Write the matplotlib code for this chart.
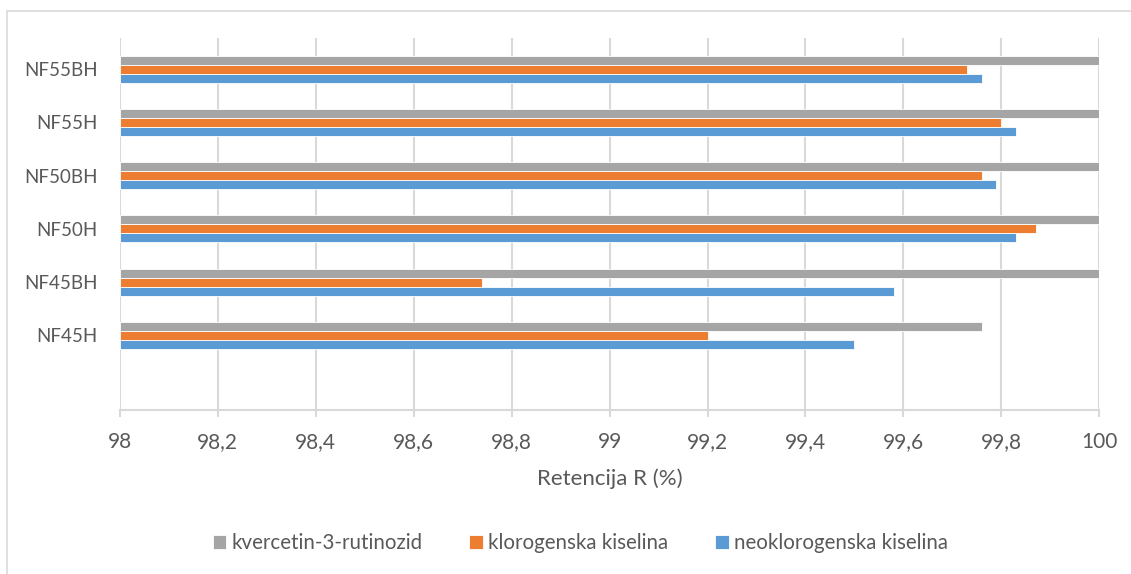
import matplotlib.pyplot as plt
import numpy as np
from matplotlib.patches import Rectangle

plt.rcParams['font.family'] = ['Lato', 'DejaVu Sans']

# categories bottom -> top (last slot at the bottom is empty in the original)
samples = ['', 'NF45H', 'NF45BH', 'NF50H', 'NF50BH', 'NF55H', 'NF55BH']
neoklorogenska = [np.nan, 99.50, 99.58, 99.83, 99.79, 99.83, 99.76]
klorogenska = [np.nan, 99.20, 98.74, 99.87, 99.76, 99.80, 99.73]
kvercetin = [np.nan, 99.76, 100.0, 100.0, 100.0, 100.0, 100.0]

series_names = ['neoklorogenska kiselina', 'klorogenska kiselina', 'kvercetin-3-rutinozid']
colors = ['#5b9bd5', '#ed7d31', '#a5a5a5']
text_col = '#595959'

fig = plt.figure(figsize=(11.31, 5.74), dpi=100)
ax = fig.add_axes([0.106, 0.286, 0.866, 0.648])

y = np.arange(len(samples))
h = 0.169
base = 98.0
for i, (vals, c, name) in enumerate(zip([neoklorogenska, klorogenska, kvercetin], colors, series_names)):
    v = np.array(vals)
    ax.barh(y + (i - 1) * h, v - base, left=base, height=h, color=c,
            edgecolor='white', linewidth=0.6, label=name, zorder=3)

ax.set_xlim(98, 100)
ax.set_ylim(-0.4, 6.59)
xt = np.round(np.arange(98, 100.01, 0.2), 1)
ax.set_xticks(xt)
ax.set_xticklabels([('%g' % t).replace('.', ',') for t in xt], color=text_col, fontsize=15)
ax.set_yticks(y)
ax.set_yticklabels(samples, color=text_col, fontsize=13.5)
ax.tick_params(axis='y', length=0, pad=16)
ax.tick_params(axis='x', length=5, color='#d9d9d9', width=1.5, pad=11, direction='out')
ax.grid(axis='x', color='#d9d9d9', linewidth=1.5, zorder=0)
for s in ['top', 'right', 'left']:
    ax.spines[s].set_visible(False)
ax.spines['bottom'].set_color('#d9d9d9')
ax.spines['bottom'].set_linewidth(1.5)
ax.set_xlabel('Retencija R (%)', color=text_col, fontsize=16, labelpad=12)

handles, labels = ax.get_legend_handles_labels()
fig.legend(handles[::-1], labels[::-1], loc='center', bbox_to_anchor=(0.513, 0.054),
           ncol=3, frameon=False, fontsize=14.8, labelcolor=text_col,
           handlelength=0.65, handleheight=0.65, handletextpad=0.25, columnspacing=2.3)

# chart frame (only top and left edges are visible in the original crop)
fig.patches.append(Rectangle((0.0065, -0.1), 1.2, 1.081, transform=fig.transFigure,
                             fill=False, edgecolor='#d9d9d9', linewidth=1.2))

fig.savefig('out.png', dpi=100, facecolor='white')
